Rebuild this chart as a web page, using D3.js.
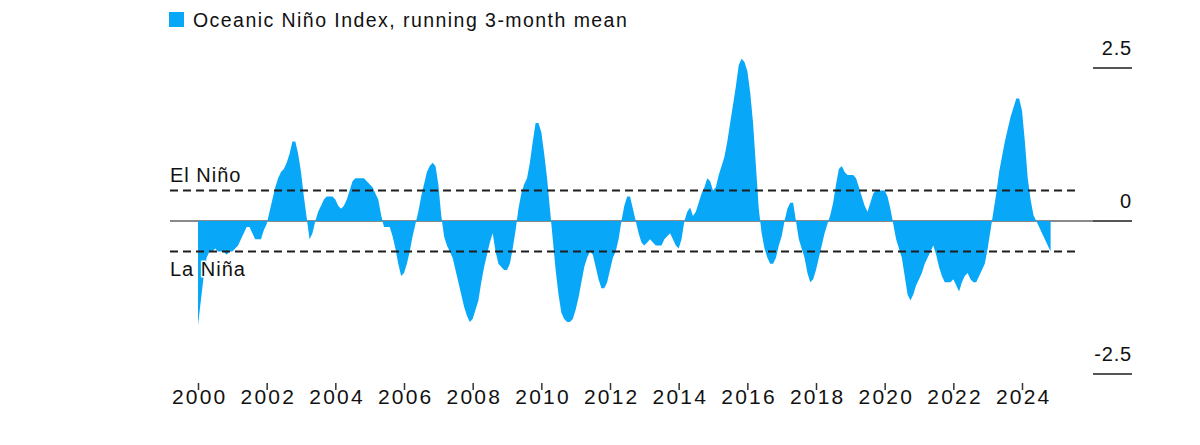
<!DOCTYPE html>
<html>
<head>
<meta charset="utf-8">
<script src="https://cdn.jsdelivr.net/npm/d3@7"></script>
<style>
  html, body { margin: 0; padding: 0; background: #fff; }
  svg { display: block; font-family: "Liberation Sans", Arial, "Helvetica Neue", sans-serif; }
</style>
</head>
<body>
<svg id="chart" width="1200" height="445"></svg>
<script>
// ---------------- DATA ----------------
const seriesName = "Oceanic Niño Index, running 3-month mean";
const startYear = 2000; // first value = Jan 2000, monthly
const oniValues = [
  -1.7, -1.3, -0.9, -0.6, -0.5, -0.5, -0.45, -0.5, -0.5, -0.5, -0.55, -0.5, // 2000
  -0.5, -0.45, -0.4, -0.3, -0.2, -0.1, -0.1, -0.2, -0.3, -0.3, -0.3, -0.15, // 2001
  -0.05, 0.15, 0.35, 0.55, 0.7, 0.8, 0.85, 0.95, 1.1, 1.3, 1.3, 1.1,        // 2002
  0.8, 0.4, 0.05, -0.3, -0.2, 0.0, 0.15, 0.25, 0.35, 0.4, 0.4, 0.4,         // 2003
  0.35, 0.25, 0.2, 0.25, 0.35, 0.5, 0.65, 0.7, 0.7, 0.7, 0.7, 0.65,         // 2004
  0.6, 0.55, 0.45, 0.35, 0.1, -0.1, -0.1, -0.1, -0.25, -0.45, -0.7, -0.9,   // 2005
  -0.85, -0.7, -0.5, -0.25, -0.05, 0.15, 0.4, 0.6, 0.8, 0.9, 0.95, 0.9,     // 2006
  0.6, 0.1, -0.25, -0.4, -0.5, -0.6, -0.8, -1.0, -1.2, -1.4, -1.55, -1.65,  // 2007
  -1.6, -1.45, -1.3, -1.0, -0.75, -0.55, -0.35, -0.2, -0.5, -0.7, -0.75, -0.8, // 2008
  -0.8, -0.7, -0.45, -0.15, 0.2, 0.45, 0.6, 0.7, 0.95, 1.3, 1.6, 1.6,       // 2009
  1.45, 1.1, 0.7, 0.2, -0.3, -0.8, -1.2, -1.5, -1.6, -1.65, -1.65, -1.6,    // 2010
  -1.45, -1.25, -1.0, -0.75, -0.6, -0.5, -0.55, -0.75, -0.95, -1.1, -1.1, -1.0, // 2011
  -0.8, -0.6, -0.5, -0.3, 0.0, 0.25, 0.4, 0.4, 0.2, 0.0, -0.2, -0.35,       // 2012
  -0.4, -0.35, -0.3, -0.35, -0.4, -0.4, -0.4, -0.3, -0.25, -0.2, -0.3, -0.4, // 2013
  -0.45, -0.3, 0.0, 0.15, 0.22, 0.08, 0.15, 0.3, 0.45, 0.55, 0.7, 0.65,     // 2014
  0.5, 0.55, 0.75, 0.9, 1.05, 1.3, 1.6, 1.9, 2.2, 2.55, 2.65, 2.6,          // 2015
  2.45, 2.1, 1.6, 0.9, 0.2, -0.2, -0.45, -0.6, -0.7, -0.7, -0.6, -0.4,      // 2016
  -0.25, 0.0, 0.2, 0.3, 0.3, 0.0, -0.3, -0.45, -0.6, -0.85, -1.0, -0.95,    // 2017
  -0.8, -0.6, -0.4, -0.2, -0.05, 0.1, 0.3, 0.6, 0.85, 0.9, 0.8, 0.75,       // 2018
  0.75, 0.75, 0.7, 0.55, 0.4, 0.25, 0.15, 0.3, 0.45, 0.5, 0.5, 0.5,         // 2019
  0.5, 0.4, 0.2, -0.05, -0.3, -0.45, -0.6, -0.9, -1.2, -1.3, -1.2, -1.05,   // 2020
  -0.95, -0.85, -0.7, -0.6, -0.5, -0.4, -0.55, -0.75, -0.9, -1.0, -1.0, -1.0, // 2021
  -0.95, -1.05, -1.15, -1.0, -0.9, -0.85, -0.95, -1.0, -1.0, -0.9, -0.8, -0.7, // 2022
  -0.45, -0.15, 0.15, 0.45, 0.8, 1.05, 1.3, 1.5, 1.7, 1.85, 2.0, 2.0,       // 2023
  1.8, 1.3, 0.7, 0.35, 0.1, 0.0, -0.1, -0.2, -0.3, -0.4, -0.5               // 2024 (Jan–Nov)
];
const yearTicks = [2000, 2002, 2004, 2006, 2008, 2010, 2012, 2014, 2016, 2018, 2020, 2022, 2024];
const valueTicks = [2.5, 0, -2.5];
const valueTickLabels = ["2.5", "0", "-2.5"];
const thresholds = [
  { label: "El Niño", value: 0.5 },
  { label: "La Niña", value: -0.5 }
];

// ---------------- CHART ----------------
const svg = d3.select("#chart");
const fillColor = "#08a7f8";
const textColor = "#111";

const x = d3.scaleLinear().domain([2000, 2024]).range([198, 1022]);
const y = d3.scaleLinear().domain([-2.5, 2.5]).range([374, 68]);

const data = oniValues.map((v, i) => ({ t: startYear + i / 12, v }));

// zero line (under the fill)
svg.append("line")
  .attr("x1", 170).attr("x2", 1132)
  .attr("y1", y(0)).attr("y2", y(0))
  .attr("stroke", "#8a8a8a").attr("stroke-width", 2);

// area
const area = d3.area()
  .x(d => x(d.t))
  .y0(y(0))
  .y1(d => y(d.v))
  .curve(d3.curveLinear);

svg.append("path")
  .datum(data)
  .attr("d", area)
  .attr("fill", fillColor);

// threshold dashed lines
svg.selectAll("line.thr")
  .data(thresholds)
  .join("line")
  .attr("class", "thr")
  .attr("x1", 170).attr("x2", 1080)
  .attr("y1", d => y(d.value)).attr("y2", d => y(d.value))
  .attr("stroke", "#1e1e1e").attr("stroke-width", 2)
  .attr("stroke-dasharray", "8,5");

// threshold labels
svg.selectAll("text.thr")
  .data(thresholds)
  .join("text")
  .attr("class", "thr")
  .attr("x", 170)
  .attr("y", d => d.value > 0 ? y(d.value) - 8 : y(d.value) + 24)
  .attr("font-size", 20)
  .attr("letter-spacing", 1)
  .attr("fill", textColor)
  .attr("stroke", "#fff").attr("stroke-width", 3)
  .attr("paint-order", "stroke")
  .text(d => d.label);

// right value axis
const rightTicks = svg.append("g");
rightTicks.selectAll("line")
  .data(valueTicks)
  .join("line")
  .attr("x1", 1093).attr("x2", 1132)
  .attr("y1", d => y(d)).attr("y2", d => y(d))
  .attr("stroke", "#555").attr("stroke-width", 2);
rightTicks.selectAll("text")
  .data(valueTicks)
  .join("text")
  .attr("x", 1132)
  .attr("y", d => y(d) - 13)
  .attr("text-anchor", "end")
  .attr("font-size", 20)
  .attr("letter-spacing", 0.8)
  .attr("fill", textColor)
  .text((d, i) => valueTickLabels[i]);

// bottom year axis
const xAxis = d3.axisBottom(x)
  .tickValues(yearTicks)
  .tickFormat(d3.format("d"))
  .tickSize(7)
  .tickSizeOuter(0);

const gx = svg.append("g")
  .attr("transform", "translate(0,383)")
  .call(xAxis);
gx.select(".domain").remove();
gx.selectAll(".tick line").attr("stroke", "#333").attr("stroke-width", 1.5);
gx.selectAll(".tick text")
  .attr("y", 20.5).attr("dy", 0).attr("dx", 1.2)
  .attr("font-size", 21)
  .attr("letter-spacing", 2.2)
  .attr("font-family", '"Liberation Sans", Arial, sans-serif')
  .attr("fill", textColor);

// legend / title
svg.append("rect")
  .attr("x", 169).attr("y", 12)
  .attr("width", 15).attr("height", 15)
  .attr("fill", fillColor);
svg.append("text")
  .attr("x", 193).attr("y", 27)
  .attr("font-size", 19.5)
  .attr("letter-spacing", 1.45)
  .attr("fill", textColor)
  .text(seriesName);
</script>
</body>
</html>
